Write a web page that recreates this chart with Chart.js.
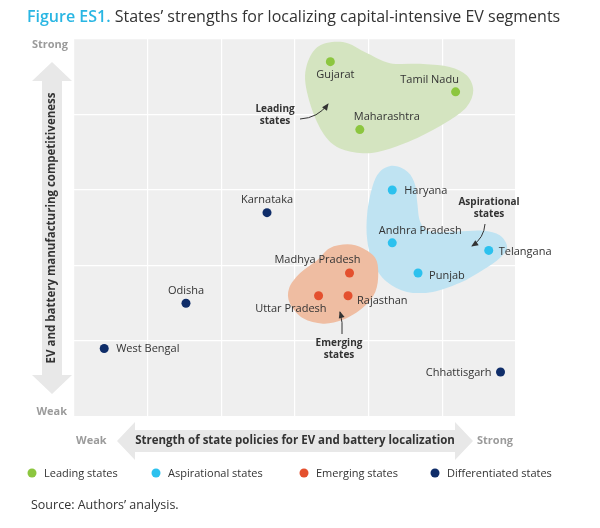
<!DOCTYPE html>
<html><head><meta charset="utf-8">
<script src="https://cdn.jsdelivr.net/npm/chart.js@4.4.1/dist/chart.umd.min.js"></script>
<style>
body{margin:0;background:#fff;}
#wrap{position:relative;width:600px;height:528px;font-family:'Open Sans','Noto Sans',sans-serif;}
#title{position:absolute;left:27px;top:6px;font-size:16px;line-height:21px;color:#333;white-space:nowrap;}
#title b{color:#29b6e3;font-weight:600;}
#source{position:absolute;left:31px;top:497px;font-size:12.5px;line-height:16px;color:#333;white-space:nowrap;}
canvas{position:absolute;left:0;top:0;}
</style></head>
<body><div id="wrap">
<canvas id="c" width="600" height="528"></canvas>
<div id="title"><b>Figure ES1.</b> States’ strengths for localizing capital-intensive EV segments</div>
<div id="source">Source: Authors’ analysis.</div>
</div>
<script>
// ---- DATA ----
const groupNames = ['Leading states','Aspirational states','Emerging states','Differentiated states'];

const leadingStates = ['Gujarat','Tamil Nadu','Maharashtra'];
const leadingX = [3.48, 5.18, 3.88];
const leadingY = [4.70, 4.30, 3.80];

const aspirationalStates = ['Haryana','Andhra Pradesh','Telangana','Punjab'];
const aspirationalX = [4.32, 4.32, 5.63, 4.67];
const aspirationalY = [3.00, 2.30, 2.20, 1.90];

const emergingStates = ['Madhya Pradesh','Uttar Pradesh','Rajasthan'];
const emergingX = [3.74, 3.32, 3.72];
const emergingY = [1.90, 1.60, 1.60];

const differentiatedStates = ['Karnataka','Odisha','West Bengal','Chhattisgarh'];
const differentiatedX = [2.62, 1.52, 0.41, 5.79];
const differentiatedY = [2.70, 1.50, 0.90, 0.59];

// cluster outlines (data units)
const leadingBlobX = [3.65,3.98,4.29,4.74,5.10,5.33,5.42,5.33,5.06,4.66,4.19,3.88,3.57,3.37,3.20,3.14,3.30];
const leadingBlobY = [4.96,4.81,4.68,4.67,4.63,4.52,4.32,4.10,3.90,3.69,3.52,3.49,3.57,3.77,4.16,4.56,4.89];
const aspirationalBlobX = [4.33,4.53,4.63,4.66,4.70,4.83,5.20,5.55,5.78,5.88,5.78,5.55,5.24,4.87,4.52,4.25,4.06,3.98,3.98,4.05,4.15];
const aspirationalBlobY = [3.32,3.24,3.07,2.83,2.58,2.45,2.45,2.46,2.40,2.24,2.10,1.94,1.77,1.65,1.65,1.78,2.03,2.34,2.69,3.04,3.24];
const emergingBlobX = [3.71,3.92,4.09,4.13,4.09,3.92,3.65,3.38,3.11,2.93,2.92,3.07,3.30,3.47];
const emergingBlobY = [2.28,2.23,2.10,1.90,1.65,1.44,1.28,1.23,1.30,1.50,1.70,1.90,2.07,2.23];

const xAxisLabels = ['Weak','Strength of state policies for EV and battery localization','Strong'];
const yAxisLabels = ['Weak','EV and battery manufacturing competitiveness','Strong'];

// ---- STYLE ----
const FONT = "'Open Sans', 'Noto Sans', sans-serif";
const colors = ['#8cc63f','#2cc1ee','#e4502e','#0f2d69'];
const blobColors = ['#d4e4c0','#bfe3f2','#efbda2'];
const labelPos = {
  'Gujarat':{dx:5,dy:13,a:'center'},
  'Tamil Nadu':{dx:-26,dy:-12,a:'center'},
  'Maharashtra':{dx:27,dy:-13,a:'center'},
  'Haryana':{dx:12,dy:1,a:'left'},
  'Andhra Pradesh':{dx:28,dy:-12,a:'center'},
  'Telangana':{dx:10,dy:1,a:'left'},
  'Punjab':{dx:11,dy:3,a:'left'},
  'Madhya Pradesh':{dx:-32,dy:-13,a:'center'},
  'Uttar Pradesh':{dx:8,dy:13,a:'right'},
  'Rajasthan':{dx:9,dy:5,a:'left'},
  'Karnataka':{dx:0,dy:-13,a:'center'},
  'Odisha':{dx:0,dy:-12,a:'center'},
  'West Bengal':{dx:12,dy:0,a:'left'},
  'Chhattisgarh':{dx:-9,dy:1,a:'right'}
};

const groups = [
  {names:leadingStates, xs:leadingX, ys:leadingY},
  {names:aspirationalStates, xs:aspirationalX, ys:aspirationalY},
  {names:emergingStates, xs:emergingX, ys:emergingY},
  {names:differentiatedStates, xs:differentiatedX, ys:differentiatedY}
];
const blobs = [
  {xs:leadingBlobX, ys:leadingBlobY},
  {xs:aspirationalBlobX, ys:aspirationalBlobY},
  {xs:emergingBlobX, ys:emergingBlobY}
];

function smoothClosed(ctx, pts){
  const n = pts.length;
  ctx.moveTo(pts[0].x, pts[0].y);
  for(let i=0;i<n;i++){
    const p0=pts[(i-1+n)%n], p1=pts[i], p2=pts[(i+1)%n], p3=pts[(i+2)%n];
    ctx.bezierCurveTo(p1.x+(p2.x-p0.x)/6, p1.y+(p2.y-p0.y)/6,
                      p2.x-(p3.x-p1.x)/6, p2.y-(p3.y-p1.y)/6, p2.x, p2.y);
  }
  ctx.closePath();
}

function curvedArrow(ctx, x0,y0,cx,cy,x1,y1){
  ctx.save();
  ctx.strokeStyle='#333'; ctx.fillStyle='#333'; ctx.lineWidth=1;
  ctx.beginPath(); ctx.moveTo(x0,y0); ctx.quadraticCurveTo(cx,cy,x1,y1); ctx.stroke();
  const ang = Math.atan2(y1-cy, x1-cx);
  const L=6, W=3;
  ctx.beginPath();
  ctx.moveTo(x1+Math.cos(ang)*1, y1+Math.sin(ang)*1);
  ctx.lineTo(x1-Math.cos(ang)*L-Math.sin(ang)*W, y1-Math.sin(ang)*L+Math.cos(ang)*W);
  ctx.lineTo(x1-Math.cos(ang)*L+Math.sin(ang)*W, y1-Math.sin(ang)*L-Math.cos(ang)*W);
  ctx.closePath(); ctx.fill();
  ctx.restore();
}

const bgPlugin = {
  id:'bg',
  beforeDraw(chart){
    const {ctx, chartArea:a} = chart;
    ctx.save(); ctx.fillStyle='#efefef';
    ctx.fillRect(a.left, a.top, a.right-a.left, a.bottom-a.top);
    ctx.restore();
  }
};

const blobPlugin = {
  id:'blobs',
  beforeDatasetsDraw(chart){
    const {ctx, scales:{x, y}} = chart;
    blobs.forEach((b,k)=>{
      const pts = b.xs.map((v,i)=>({x:x.getPixelForValue(v), y:y.getPixelForValue(b.ys[i])}));
      ctx.save(); ctx.beginPath(); smoothClosed(ctx, pts);
      ctx.fillStyle = blobColors[k]; ctx.fill(); ctx.restore();
    });
  }
};

const textPlugin = {
  id:'texts',
  afterDatasetsDraw(chart){
    const ctx = chart.ctx;
    ctx.save();
    ctx.font = '11px '+FONT; ctx.fillStyle='#333'; ctx.textBaseline='middle';
    chart.data.datasets.forEach((ds,di)=>{
      const meta = chart.getDatasetMeta(di);
      meta.data.forEach((el,i)=>{
        const name = groups[di].names[i];
        const p = labelPos[name];
        ctx.textAlign = p.a;
        ctx.fillText(name, el.x+p.dx, el.y+p.dy);
      });
    });
    // cluster annotations
    ctx.font = 'bold 10px '+FONT; ctx.textAlign='center';
    ctx.fillText('Leading', 275, 109); ctx.fillText('states', 275, 121);
    ctx.fillText('Aspirational', 489, 202); ctx.fillText('states', 489, 214);
    ctx.fillText('Emerging', 339, 343); ctx.fillText('states', 339, 355);
    ctx.restore();
    curvedArrow(ctx, 300,119, 318,118, 328,104);
    curvedArrow(ctx, 485,224, 484,238, 472,246);
    curvedArrow(ctx, 342,334, 343,322, 340,312);
  },
  afterDraw(chart){
    const ctx = chart.ctx;
    ctx.save();
    // vertical axis arrow
    ctx.fillStyle='#e8e8e8';
    ctx.beginPath();
    ctx.moveTo(52,62); ctx.lineTo(72,81); ctx.lineTo(62,81); ctx.lineTo(62,375); ctx.lineTo(72,375);
    ctx.lineTo(52,394); ctx.lineTo(32,375); ctx.lineTo(42,375); ctx.lineTo(42,81); ctx.lineTo(32,81);
    ctx.closePath(); ctx.fill();
    // horizontal axis arrow
    ctx.beginPath();
    ctx.moveTo(117,441); ctx.lineTo(135,422); ctx.lineTo(135,430); ctx.lineTo(455,430); ctx.lineTo(455,422);
    ctx.lineTo(473,441); ctx.lineTo(455,460); ctx.lineTo(455,452); ctx.lineTo(135,452); ctx.lineTo(135,460);
    ctx.closePath(); ctx.fill();
    // axis texts
    ctx.textBaseline='middle';
    ctx.font='bold 11px '+FONT; ctx.fillStyle='#9b9b9b';
    ctx.textAlign='right';
    ctx.fillText(yAxisLabels[2], 68, 45);
    ctx.fillText(yAxisLabels[0], 67, 412);
    ctx.textAlign='left';
    ctx.fillText(xAxisLabels[0], 76, 441);
    ctx.fillText(xAxisLabels[2], 477, 441);
    ctx.fillStyle='#333'; ctx.textAlign='center';
    ctx.font='bold 11.5px '+FONT;
    ctx.fillText(xAxisLabels[1], 295, 441);
    ctx.save(); ctx.translate(52, 228); ctx.rotate(-Math.PI/2);
    ctx.fillText(yAxisLabels[1], 0, 0); ctx.restore();
    // legend
    const lx = [32, 156, 304, 435];
    ctx.font='11px '+FONT; ctx.textAlign='left';
    groupNames.forEach((g,i)=>{
      ctx.fillStyle=colors[i]; ctx.beginPath(); ctx.arc(lx[i], 473, 4.5, 0, Math.PI*2); ctx.fill();
      ctx.fillStyle='#333'; ctx.fillText(g, lx[i]+12, 473.5);
    });
    ctx.restore();
  }
};

new Chart(document.getElementById('c'), {
  type:'scatter',
  data:{
    datasets: groups.map((g,i)=>({
      label: groupNames[i],
      data: g.xs.map((v,j)=>({x:v, y:g.ys[j]})),
      backgroundColor: colors[i],
      pointRadius: 4.5, pointHoverRadius: 4.5, pointBorderWidth: 0, borderWidth:0
    }))
  },
  options:{
    responsive:false, animation:false, events:[],
    layout:{padding:{left:74, right:84, top:39, bottom:111.5}, autoPadding:false},
    plugins:{legend:{display:false}, tooltip:{enabled:false}, title:{display:false}},
    scales:{
      x:{type:'linear', min:0, max:6, ticks:{display:false, stepSize:1},
         grid:{color:'#ffffff', lineWidth:1.2, drawTicks:false}, border:{display:false}},
      y:{type:'linear', min:0, max:5, ticks:{display:false, stepSize:1},
         grid:{color:'#ffffff', lineWidth:1.2, drawTicks:false}, border:{display:false}}
    }
  },
  plugins:[bgPlugin, blobPlugin, textPlugin]
});
</script>
</body></html>
